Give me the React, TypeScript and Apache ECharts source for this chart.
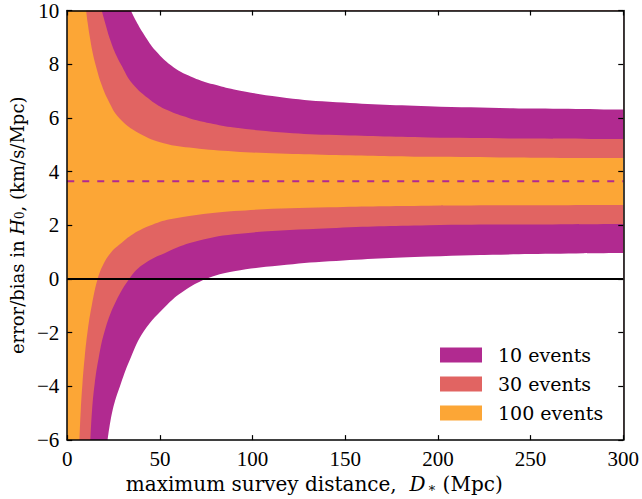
import React, { useEffect, useRef } from "react";
import * as echarts from "echarts";

// Axis ticks
const xTicks = [0, 50, 100, 150, 200, 250, 300];
const yTicks = [-6, -4, -2, 0, 2, 4, 6, 8, 10];

// Band boundaries: [distance D* (Mpc), H0 error/bias (km/s/Mpc)]
const band100Upper = [
  [10.2, 10], [11.0, 9.55], [12.2, 9.0], [13.8, 8.4], [15.6, 7.9], [18.2, 7.3],
  [22.1, 6.66], [28, 6.0], [38.7, 5.43], [52.1, 5.06], [68.2, 4.88], [90, 4.75],
  [114.6, 4.67], [141.4, 4.62], [195, 4.55], [250, 4.52], [300, 4.51],
];
const band100Lower = [
  [6.6, -6], [7.3, -4.88], [8.2, -3.9], [9.4, -2.92], [11, -1.94], [13.3, -0.96],
  [16.4, 0], [19.5, 0.55], [23.5, 0.98], [28.5, 1.3], [35.6, 1.68], [45.9, 2.02],
  [57, 2.24], [90, 2.53], [141.4, 2.67], [195, 2.73], [250, 2.75], [300, 2.76],
];
const band30Upper = [
  [18.6, 10], [20.6, 9.5], [23.2, 8.9], [26.3, 8.35], [28.9, 8.0], [35.2, 7.27],
  [45, 6.66], [53.9, 6.29], [65.5, 6.0], [77.1, 5.8], [90, 5.64], [114.6, 5.47],
  [141.4, 5.37], [195, 5.27], [250, 5.23], [300, 5.21],
];
const band30Lower = [
  [12.5, -6], [13.4, -4.88], [14.8, -3.9], [17, -2.92], [20.2, -1.94], [25.4, -0.96],
  [33.4, 0], [40.5, 0.52], [53.9, 1.01], [68.2, 1.38], [90, 1.67], [141.4, 1.89],
  [195, 2.0], [250, 2.03], [300, 2.05],
];
const band10Upper = [
  [34.3, 10], [37.2, 9.6], [41.4, 9.11], [47.7, 8.5], [57.5, 7.88], [68.2, 7.5],
  [78.9, 7.25], [90, 7.06], [114.6, 6.78], [141.4, 6.6], [195, 6.43], [250, 6.35],
  [300, 6.31],
];
const band10Lower = [
  [21.8, -6], [24.5, -4.88], [28.9, -3.9], [34.3, -2.92], [41.4, -1.94], [53.9, -0.96],
  [62.9, -0.45], [74.8, 0], [90, 0.29], [114.6, 0.5], [141.4, 0.66], [195, 0.84],
  [250, 0.93], [300, 0.97],
];
const meanBias = 3.64;
const zeroLine = 0;

const legendNames = ["10 events", "30 events", "100 events"];

const PURPLE = "#b12a90";
const CORAL = "#e16462";
const ORANGE = "#fca636";

const TICK_FONT = "Liberation Serif";
const TEXT_FONT = "DejaVu Serif";

export default function App() {
  const ref = useRef<HTMLDivElement>(null);

  useEffect(() => {
    if (!ref.current) return;
    const chart = echarts.init(ref.current, undefined, { renderer: "svg" });

    const axisLine = { show: true, onZero: false, lineStyle: { color: "#000", width: 1.5 } };
    const axisTick = { show: true, inside: true, length: 5, lineStyle: { color: "#000", width: 1.2 } };
    const minusFmt = (v: number) => (v < 0 ? "\u2212" + Math.abs(v) : String(v));

    const areaSeries = (name: string, data: number[][], color: string, origin: string, z: number) => ({
      name,
      type: "line",
      data,
      smooth: 0.4,
      symbol: "none",
      showSymbol: false,
      color,
      lineStyle: { width: 0, color },
      itemStyle: { color },
      areaStyle: { color, opacity: 1, origin },
      z,
      silent: true,
    });

    chart.setOption({
      animation: false,
      backgroundColor: "#fff",
      grid: {
        left: 66,
        right: 16,
        top: 9,
        bottom: 56,
        show: true,
        backgroundColor: ORANGE,
        borderWidth: 0,
      },
      legend: {
        data: legendNames,
        orient: "vertical",
        left: 440,
        top: 345,
        padding: 0,
        z: 20,
        itemWidth: 42,
        itemHeight: 15,
        itemGap: 9,
        icon: "rect",
        selectedMode: false,
        textStyle: {
          fontFamily: TEXT_FONT,
          fontSize: 19,
          color: "#000",
          lineHeight: 20,
          padding: [0, 0, 0, 11],
        },
      },
      xAxis: [
        {
          type: "value",
          min: 0,
          max: 300,
          interval: 50,
          position: "bottom",
          axisLine,
          axisTick,
          splitLine: { show: false },
          axisLabel: {
            margin: 8,
            color: "#000",
            fontFamily: TICK_FONT,
            fontSize: 21,
            customValues: xTicks,
          },
          name: "{t|maximum survey distance,  }{i|D}{s|\u2217}{t| (Mpc)}",
          nameLocation: "middle",
          nameGap: 25,
          nameTextStyle: {
            padding: [0, 62, 0, 0],
            rich: {
              t: { fontFamily: TEXT_FONT, fontSize: 20, color: "#000", lineHeight: 24, verticalAlign: "bottom" },
              i: { fontFamily: TEXT_FONT, fontSize: 20, fontStyle: "italic", color: "#000", lineHeight: 24, verticalAlign: "bottom" },
              s: { fontFamily: TEXT_FONT, fontSize: 13, color: "#000", lineHeight: 24, verticalAlign: "bottom", padding: [6, 0, 0, 2] },
            },
          },
          z: 10,
        },
        {
          type: "value",
          min: 0,
          max: 300,
          interval: 50,
          position: "top",
          axisLine,
          axisTick,
          splitLine: { show: false },
          axisLabel: { show: false },
          z: 10,
        },
      ],
      yAxis: [
        {
          type: "value",
          min: -6,
          max: 10,
          interval: 2,
          position: "left",
          axisLine,
          axisTick,
          splitLine: { show: false },
          axisLabel: {
            margin: 8,
            color: "#000",
            fontFamily: TICK_FONT,
            fontSize: 21,
            formatter: minusFmt,
            customValues: yTicks,
          },
          name: "{t|error/bias in }{i|H}{s|0}{t|, (km/s/Mpc)}",
          nameLocation: "middle",
          nameGap: 39,
          nameTextStyle: {
            rich: {
              t: { fontFamily: TEXT_FONT, fontSize: 18, color: "#000", lineHeight: 24, verticalAlign: "bottom" },
              i: { fontFamily: TEXT_FONT, fontSize: 18, fontStyle: "italic", color: "#000", lineHeight: 24, verticalAlign: "bottom" },
              s: { fontFamily: TEXT_FONT, fontSize: 12, color: "#000", lineHeight: 24, verticalAlign: "bottom", padding: [6, 0, 0, 0] },
            },
          },
          z: 10,
        },
        {
          type: "value",
          min: -6,
          max: 10,
          interval: 2,
          position: "right",
          axisLine,
          axisTick,
          splitLine: { show: false },
          axisLabel: { show: false },
          z: 10,
        },
      ],
      series: [
        { name: "100 events", type: "line", data: [], color: ORANGE, itemStyle: { color: ORANGE } },
        areaSeries("30 events", band100Upper, CORAL, "end", 2),
        areaSeries("30 events", band100Lower, CORAL, "start", 2),
        areaSeries("10 events", band30Upper, PURPLE, "end", 3),
        areaSeries("10 events", band30Lower, PURPLE, "start", 3),
        areaSeries("outside", band10Upper, "#ffffff", "end", 4),
        areaSeries("outside", band10Lower, "#ffffff", "start", 4),
        {
          name: "mean bias",
          type: "line",
          data: [[0, meanBias], [300, meanBias]],
          symbol: "none",
          lineStyle: { color: PURPLE, width: 2, type: [7, 8] },
          z: 6,
          silent: true,
        },
        {
          name: "zero",
          type: "line",
          data: [[0, zeroLine], [300, zeroLine]],
          symbol: "none",
          lineStyle: { color: "#000", width: 1.8 },
          z: 6,
          silent: true,
        },
      ],
    });

    return () => chart.dispose();
  }, []);

  return (
    <div
      ref={ref}
      style={{ position: "absolute", left: 0, top: 0, width: 642, height: 499, background: "#fff" }}
    />
  );
}
